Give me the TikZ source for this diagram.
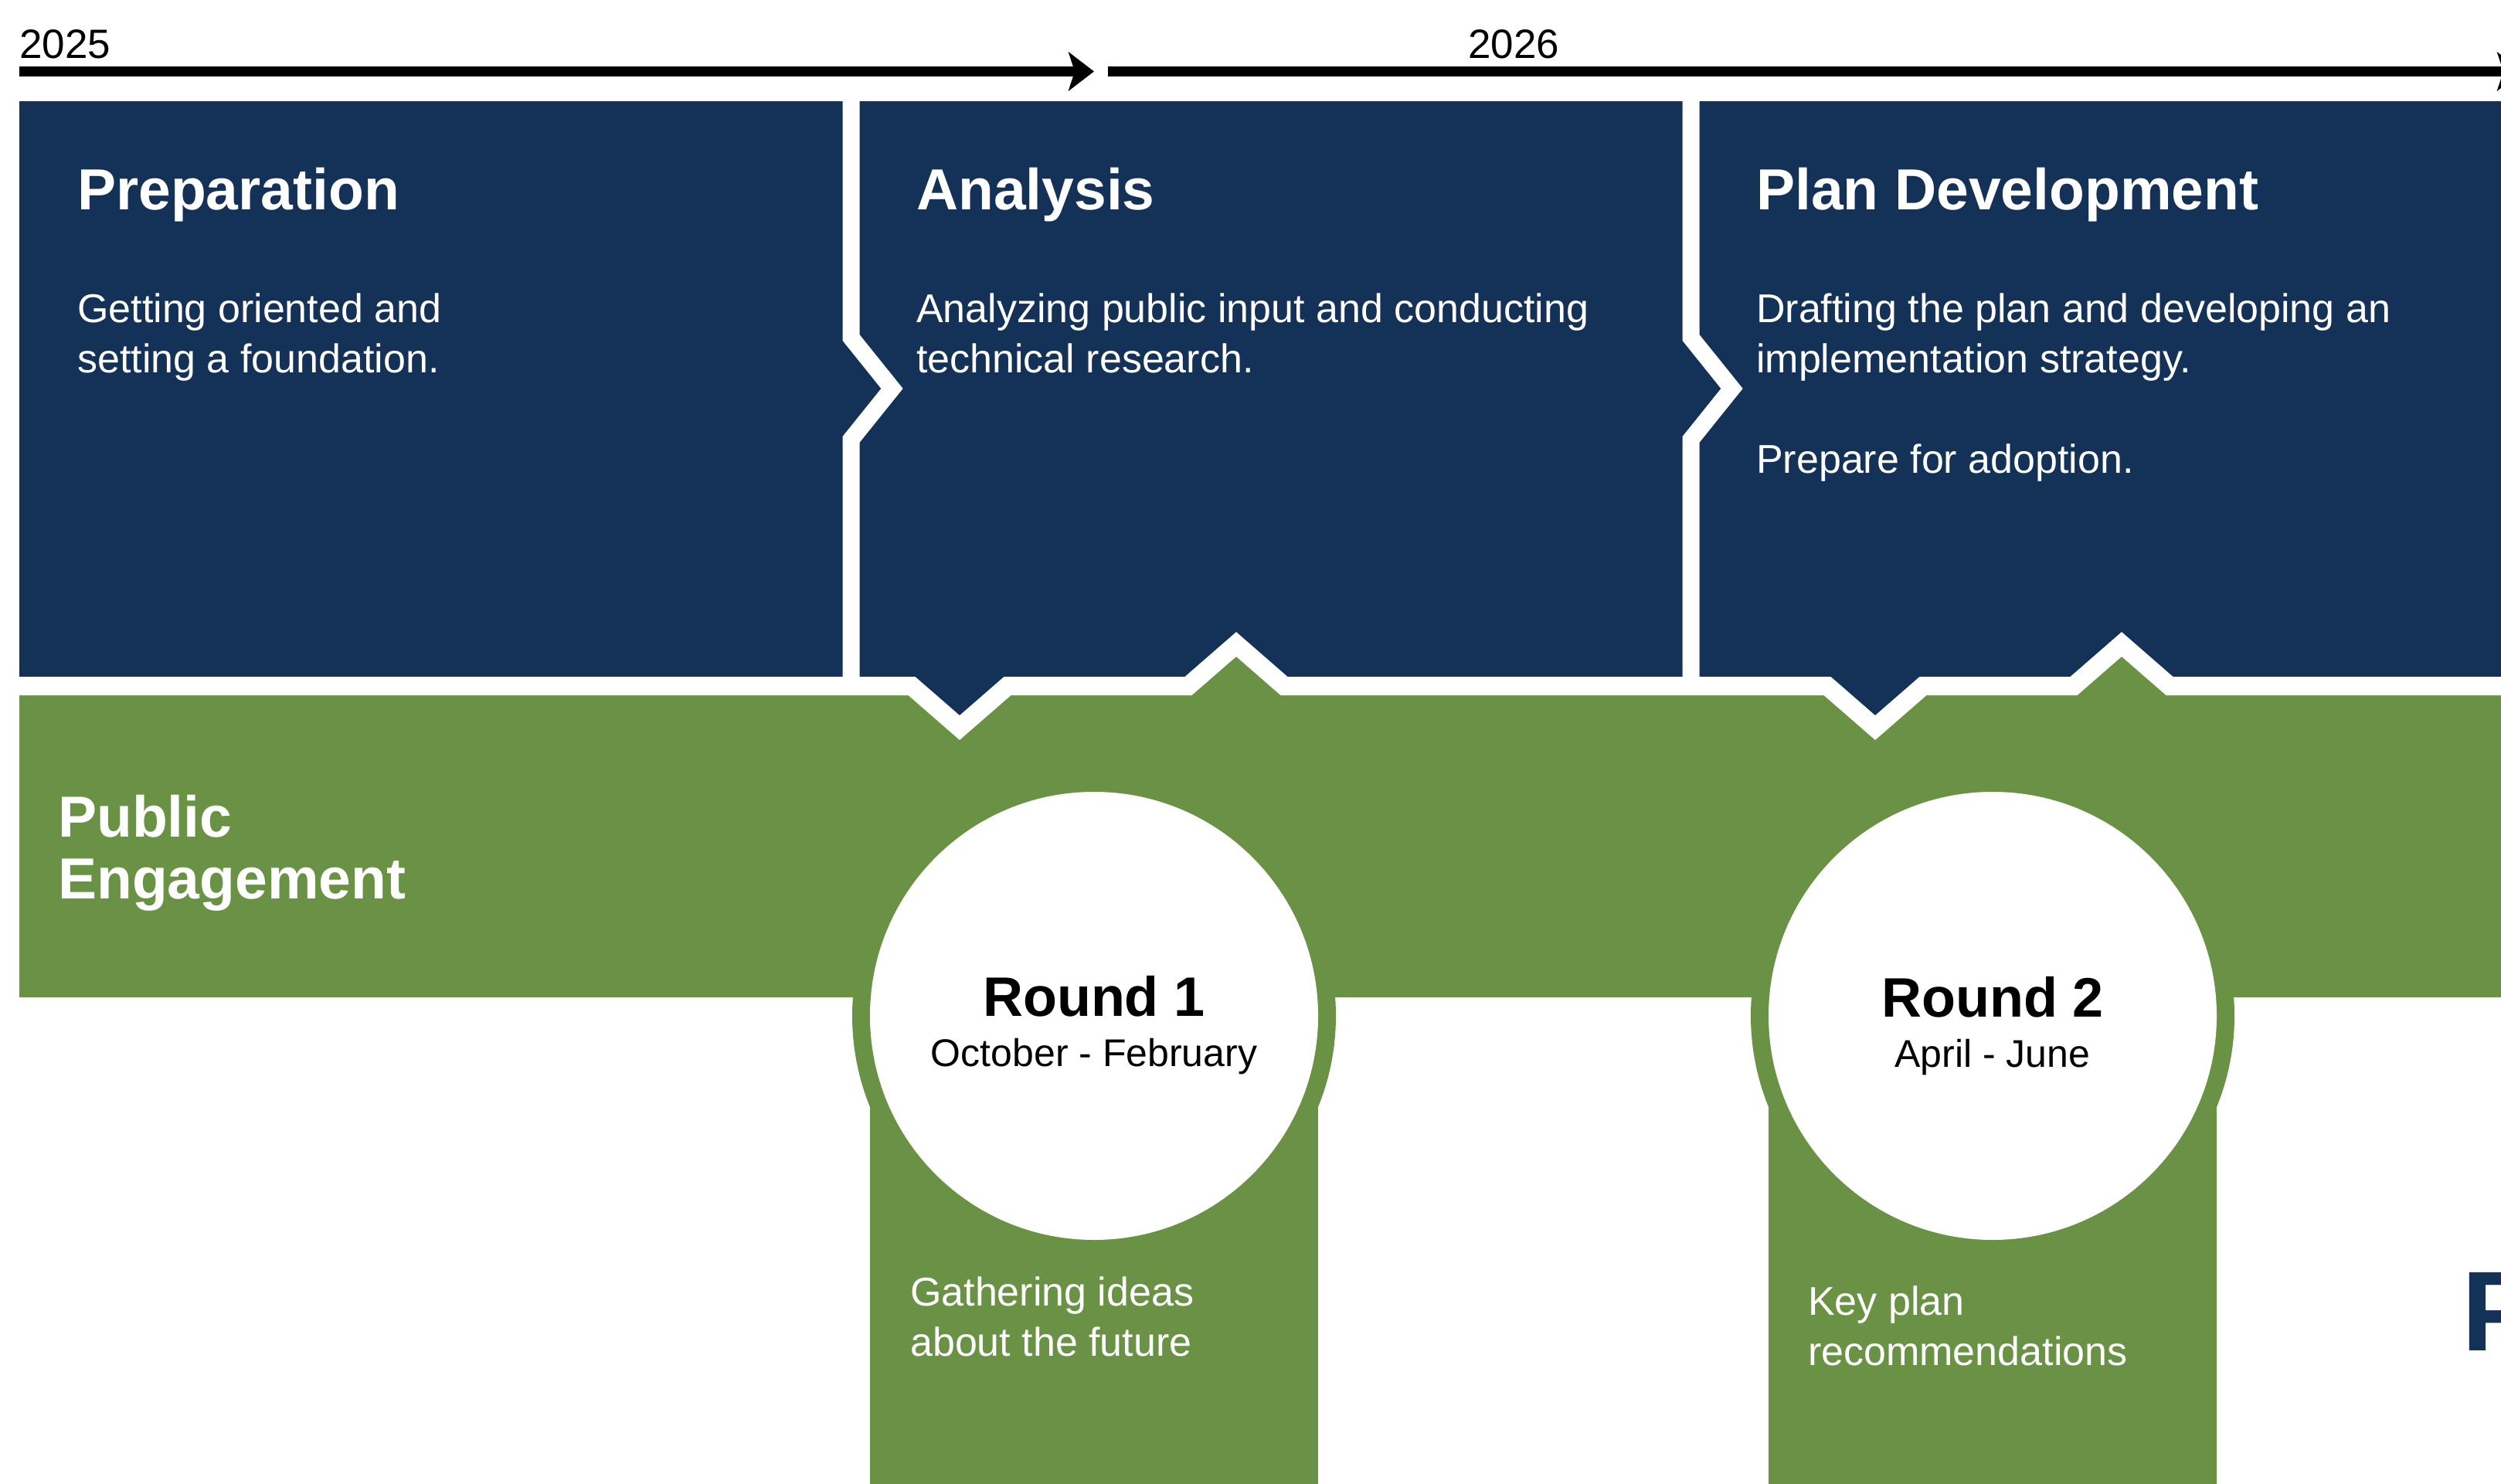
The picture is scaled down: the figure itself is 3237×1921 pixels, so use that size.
\documentclass[tikz,border=0pt]{standalone}
\usepackage{fontspec}
\setmainfont{Liberation Sans}
\usetikzlibrary{arrows.meta}
\definecolor{navy}{RGB}{20,50,88}
\definecolor{leaf}{RGB}{106,146,68}

\begin{document}
\begin{tikzpicture}[x=1pt,y=-1pt,
  year/.style={anchor=base west,inner sep=0pt,font=\fontsize{53}{60}\selectfont},
  timeline/.style={line width=13pt,-{Stealth[length=33pt,width=50pt,inset=8pt]}},
  phase/.style={anchor=base west,inner sep=0pt,text=white,font=\bfseries\fontsize{75}{80}\selectfont},
  phasetext/.style={anchor=north west,inner sep=0pt,text=white,align=left,font=\fontsize{52}{65}\selectfont},
  roundname/.style={anchor=base,inner sep=0pt,font=\bfseries\fontsize{72}{80}\selectfont},
  rounddate/.style={anchor=base,inner sep=0pt,font=\fontsize{50}{60}\selectfont},
  seam/.style={white,line width=24pt},
  gap/.style={white,line width=22pt}]
\useasboundingbox (0,0) rectangle (3237,1921);
\clip (0,0) rectangle (3237,1921);

% years
\coordinate (t0) at (25,92.5);
\coordinate (t1) at (1416,92.5);
\coordinate (t2) at (1434,92.5);
\coordinate (t3) at (3265,92.5);
\draw[timeline] (t0) -- (t1);
\draw[timeline] (t2) -- (t3);
\node[year] (y2025) at (25,76) {2025};
\node[year] (y2026) at (1900,76) {2026};

% phase band and engagement band
\fill[navy] (25,131) rectangle (3300,888);
\fill[leaf] (25,888) rectangle (3300,1291);
\foreach \x in {1242,2427}
  \fill[navy] (\x-62,888) -- (\x,942) -- (\x+62,888) -- cycle;
\foreach \x in {1600,2746}
  \fill[leaf] (\x-62,888) -- (\x,834) -- (\x+62,888) -- cycle;
\draw[seam] (0,888) -- (1180,888) -- (1242,942) -- (1304,888) -- (1538,888)
  -- (1600,834) -- (1662,888) -- (2365,888) -- (2427,942) -- (2489,888)
  -- (2684,888) -- (2746,834) -- (2808,888) -- (3300,888);
\foreach \x in {1101.5,2188.5}
  \draw[gap] (\x,125) -- (\x,437) -- (\x+53,503) -- (\x,569) -- (\x,888);

% rounds
\foreach \x/\n in {1416/1,2579/2} {
  \fill[leaf] (\x,1315) circle[radius=313pt];
  \fill[leaf] (\x-290,1315) rectangle (\x+290,1930);
  \node[circle,fill=white,inner sep=0pt,minimum size=580pt] (round\n) at (\x,1315) {};
}

\node[phase] (prep) at (100,271) {Preparation};
\node[phasetext] (prepText) at (100,377) {\rule{0pt}{40pt}Getting oriented and\\setting a foundation.};
\node[phase] (analysis) at (1186,271) {Analysis};
\node[phasetext] (analysisText) at (1186,377) {\rule{0pt}{40pt}Analyzing public input and conducting\\technical research.};
\node[phase] (plan) at (2273,271) {Plan Development};
\node[phasetext] (planText) at (2273,377) {\rule{0pt}{40pt}Drafting the plan and developing an\\implementation strategy.\\[65pt]Prepare for adoption.};

\node[phase,anchor=north west,align=left,font=\bfseries\fontsize{75}{80}\selectfont] (engage) at (75,1027) {\rule{0pt}{56pt}Public\\Engagement};

\node[roundname] (round1Name) at (1416,1315) {Round 1};
\node[rounddate] (round1Date) at (1416,1380) {October - February};
\node[phasetext] (round1Text) at (1178,1652) {\rule{0pt}{38pt}Gathering ideas\\about the future};
\node[roundname] (round2Name) at (2579,1316) {Round 2};
\node[rounddate] (round2Date) at (2579,1381) {April - June};
\node[phasetext] (round2Text) at (2340,1664) {\rule{0pt}{38pt}Key plan\\recommendations};

\node[anchor=base west,inner sep=0pt,text=navy,font=\bfseries\fontsize{147}{150}\selectfont] (nextPhase) at (3186,1748) {P};
\end{tikzpicture}
\end{document}
